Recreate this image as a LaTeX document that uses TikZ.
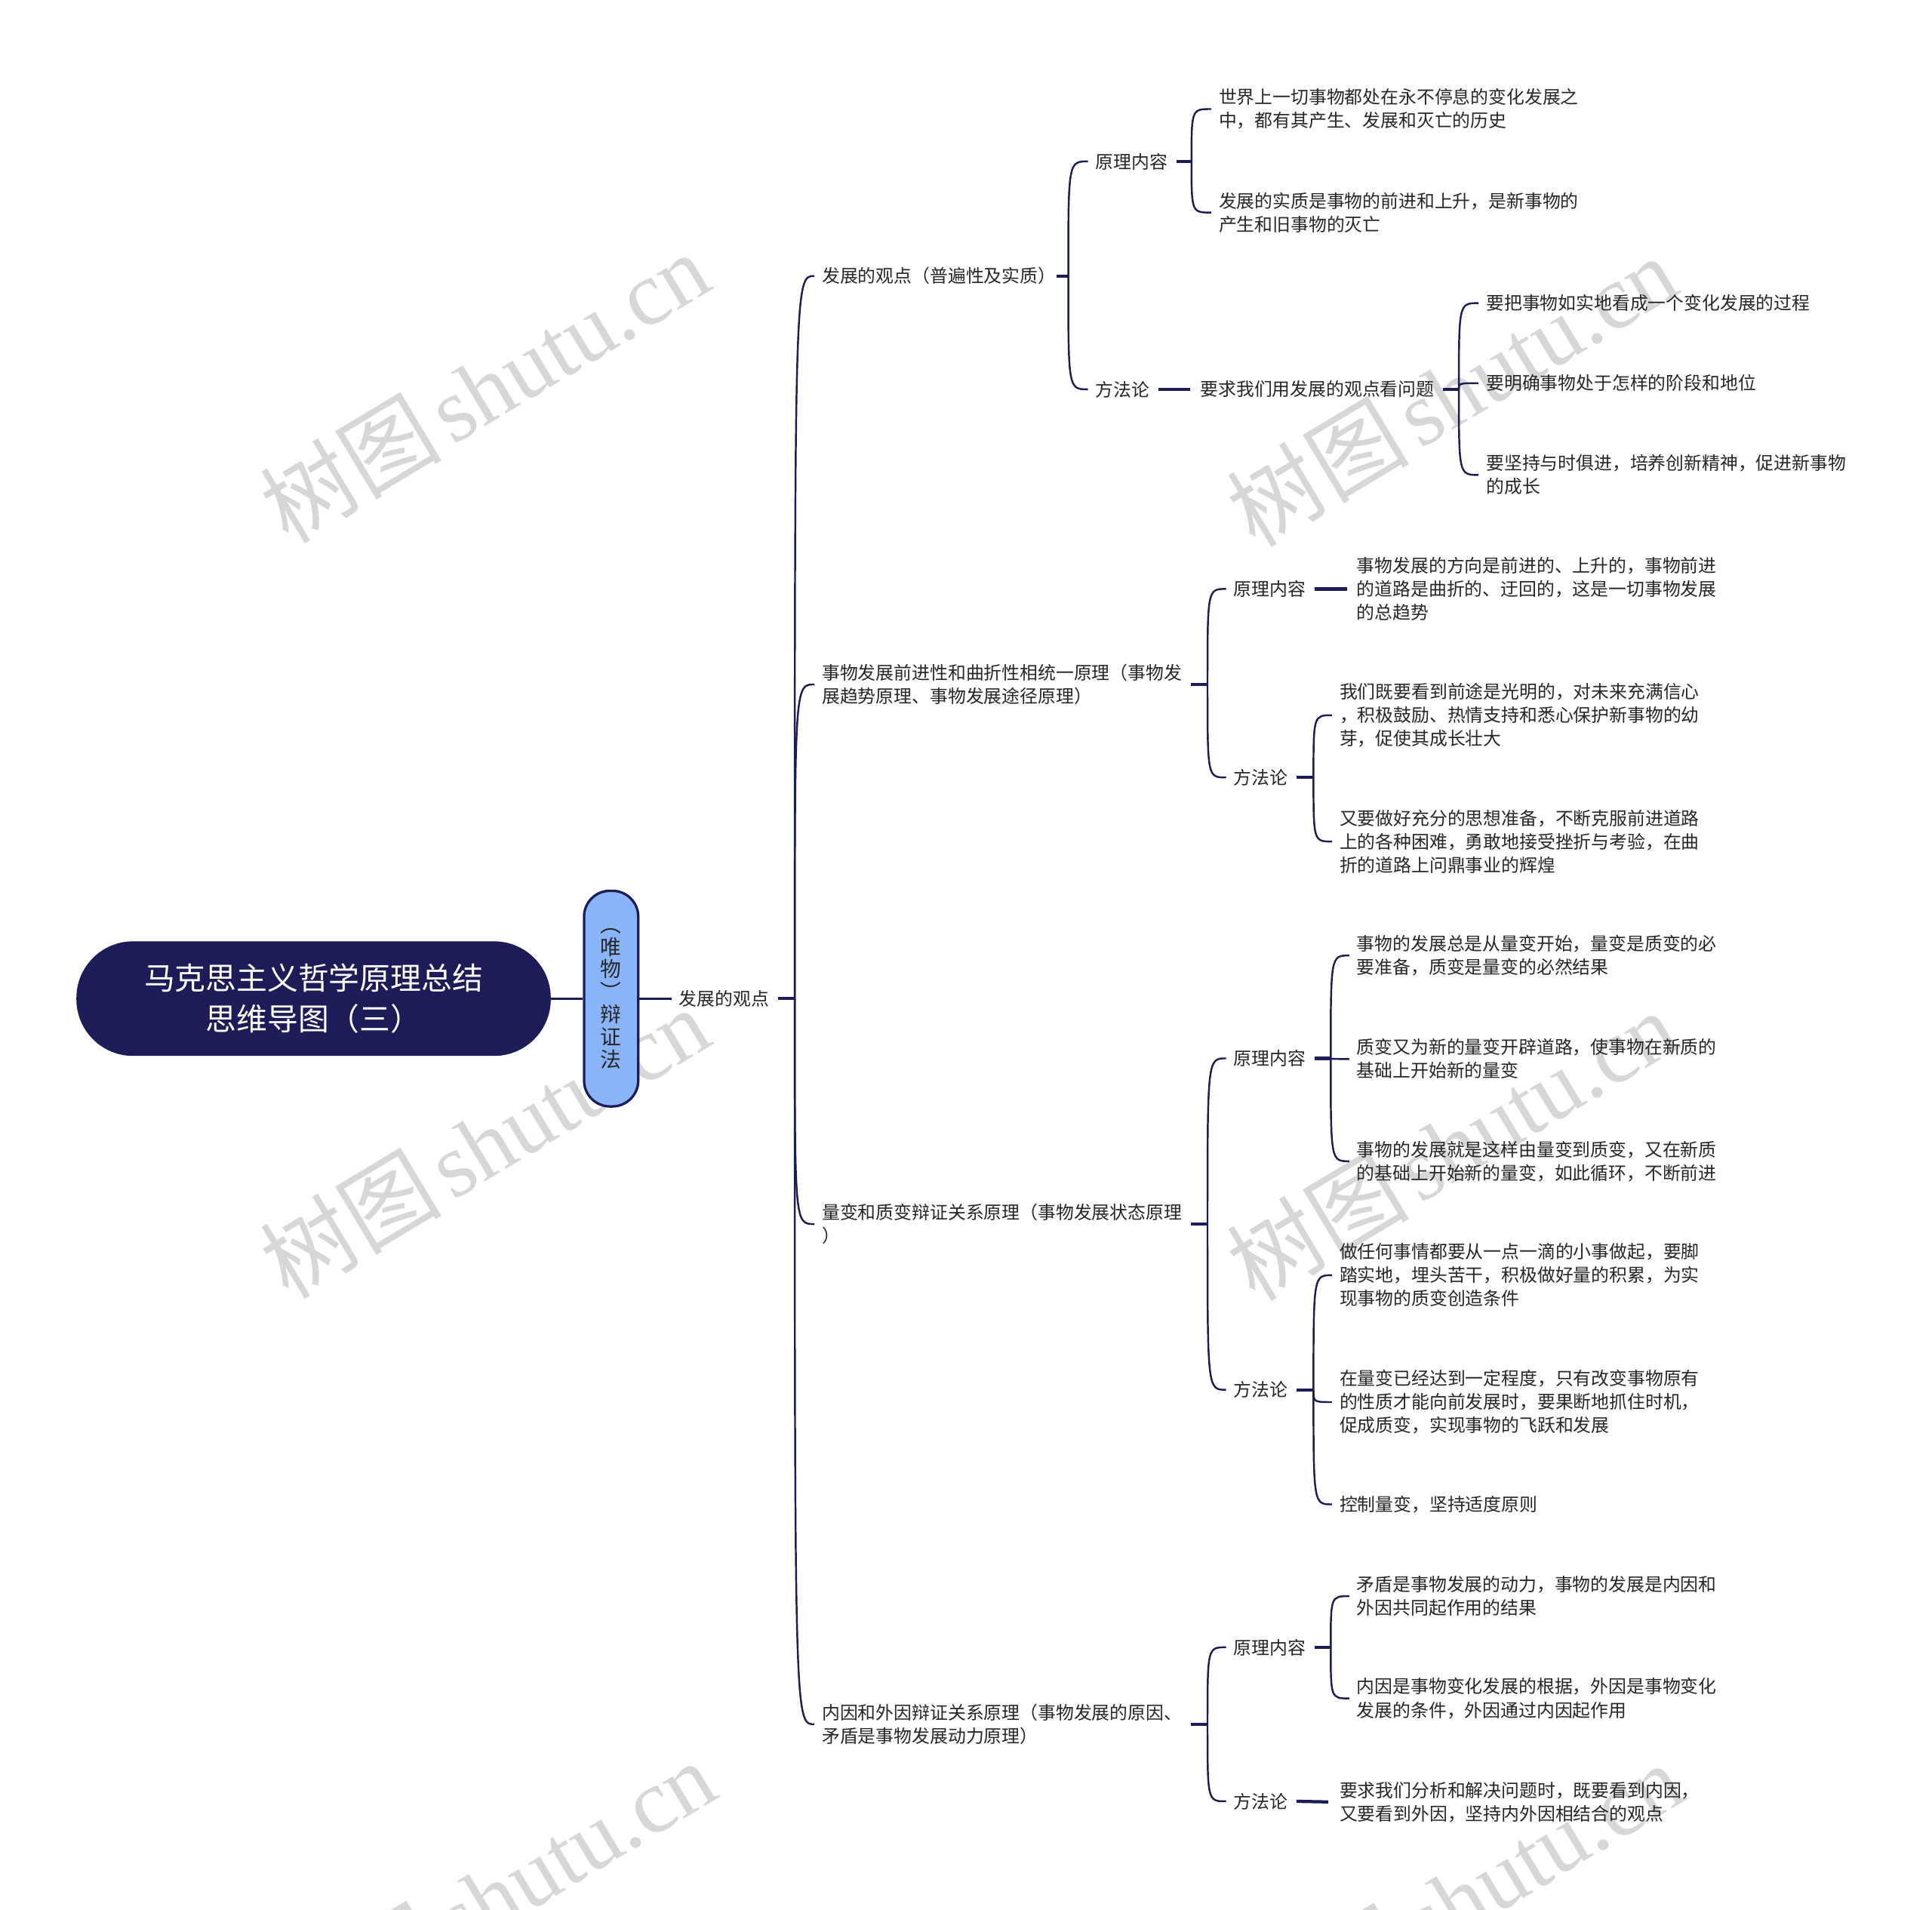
\documentclass[tikz,border=0pt]{standalone}
\usepackage{fontspec}
\setmainfont{Noto Sans CJK SC}
\newfontfamily\wmcjk{Noto Sans CJK SC}
\newfontfamily\wmlat{Liberation Serif}
\usetikzlibrary{calc}
\definecolor{navy}{HTML}{1C1D58}
\definecolor{lblue}{HTML}{8AB4F8}
\definecolor{txt}{HTML}{262626}
\definecolor{wm}{HTML}{D7D7D7}
\begin{document}
\begin{tikzpicture}[x=1pt,y=-1pt,
  conn/.style={draw=navy,line width=1.5pt},
  stubline/.style={draw=navy,line width=2.6pt},
  lf/.style={anchor=west,inner sep=0pt,align=left,text=txt,font=\fontsize{14.6}{19}\selectfont},
  brk/.style={to path={.. controls (\tikztostart |- \tikztotarget) and (\tikztostart |- \tikztotarget) .. (\tikztotarget)}},
  wmark/.style={text=wm,rotate=31,inner sep=0pt,font=\fontsize{74}{74}\selectfont}
]
\useasboundingbox (0,0) rectangle (1568,1550.2);

% watermarks
\foreach \wx/\wy [count=\i] in {393/314,1178/317,393/927,1178/929,398/1538,1183/1540}{
  \node[wmark] (wm\i) at (\wx,\wy) {\wmcjk 树图\hspace{8pt}\wmlat shutu.cn};
}

% root
\node[fill=navy,rounded corners=46pt,minimum width=385pt,minimum height=93pt,inner sep=0pt,
      text=white,align=center,font=\fontsize{25}{33}\selectfont] (root) at (254.5,810.5)
      {马克思主义哲学原理总结\\思维导图（三）};
% vertical node
\node[fill=lblue,draw=navy,line width=2pt,rounded corners=21pt,minimum width=44pt,minimum height=175pt,
      inner sep=0pt,align=center,text=txt,font=\fontsize{17}{18.3}\selectfont] (dia) at (496,810.5)
      {︵\\唯\\物\\︶\\辩\\证\\法};
\draw[navy,line width=2pt] (root.east) -- (dia.west);

\node[lf] (L2) at (551,810.5) {发展的观点};
\draw[conn] (dia.east) -- ([xshift=-6]L2.west);
\coordinate (j0) at (645,810.5);
\draw[stubline] ([xshift=7]L2.east) -- (j0);

% level 3
\node[lf] (A) at (667,224) {发展的观点（普遍性及实质）};
\node[lf] (B) at (667,555.5) {事物发展前进性和曲折性相统一原理（事物发\\展趋势原理、事物发展途径原理）};
\node[lf] (C) at (667,993.5) {量变和质变辩证关系原理（事物发展状态原理\\）};
\node[lf] (D) at (667,1399.5) {内因和外因辩证关系原理（事物发展的原因、\\矛盾是事物发展动力原理）};
\foreach \n in {A,B,C,D}{\draw[conn] (j0) to[brk] ([xshift=-6]\n.west);}

% ---- A
\coordinate (jA) at (867,224);
\draw[stubline] (A.east) -- (jA);
\node[lf] (A1) at (889,131) {原理内容};
\node[lf] (A2) at (889,316) {方法论};
\foreach \n in {A1,A2}{\draw[conn] (jA) to[brk] ([xshift=-6]\n.west);}
\coordinate (jA1) at (967,131);
\draw[stubline] ([xshift=7]A1.east) -- (jA1);
\node[lf] (A1a) at (989,88.5) {世界上一切事物都处在永不停息的变化发展之\\中，都有其产生、发展和灭亡的历史};
\node[lf] (A1b) at (989,172.5) {发展的实质是事物的前进和上升，是新事物的\\产生和旧事物的灭亡};
\foreach \n in {A1a,A1b}{\draw[conn] (jA1) to[brk] ([xshift=-6]\n.west);}
\node[lf] (A2a) at (974,316) {要求我们用发展的观点看问题};
\draw[stubline] ([xshift=7]A2.east) -- ([xshift=-8]A2a.west);
\coordinate (jA2a) at (1184,316);
\draw[stubline] ([xshift=7]A2a.east) -- (jA2a);
\node[lf] (A2a1) at (1206,246) {要把事物如实地看成一个变化发展的过程};
\node[lf] (A2a2) at (1206,311) {要明确事物处于怎样的阶段和地位};
\node[lf] (A2a3) at (1206,385.5) {要坚持与时俱进，培养创新精神，促进新事物\\的成长};
\foreach \n in {A2a1,A2a2,A2a3}{\draw[conn] (jA2a) to[brk] ([xshift=-6]\n.west);}

% ---- B
\coordinate (jB) at (980,555.5);
\draw[stubline] ([xshift=7]B.east|-jB) -- (jB);
\node[lf] (B1) at (1001,478) {原理内容};
\node[lf] (B2) at (1001,631) {方法论};
\foreach \n in {B1,B2}{\draw[conn] (jB) to[brk] ([xshift=-6]\n.west);}
\node[lf] (B1a) at (1101,478) {事物发展的方向是前进的、上升的，事物前进\\的道路是曲折的、迂回的，这是一切事物发展\\的总趋势};
\draw[stubline] ([xshift=7]B1.east) -- ([xshift=-8]B1a.west);
\coordinate (jB2) at (1066,631);
\draw[stubline] ([xshift=7]B2.east) -- (jB2);
\node[lf] (B2a) at (1087,580.5) {我们既要看到前途是光明的，对未来充满信心\\，积极鼓励、热情支持和悉心保护新事物的幼\\芽，促使其成长壮大};
\node[lf] (B2b) at (1087,683) {又要做好充分的思想准备，不断克服前进道路\\上的各种困难，勇敢地接受挫折与考验，在曲\\折的道路上问鼎事业的辉煌};
\foreach \n in {B2a,B2b}{\draw[conn] (jB2) to[brk] ([xshift=-6]\n.west);}

% ---- C
\coordinate (jC) at (980,993.5);
\draw[stubline] ([xshift=7]C.east|-jC) -- (jC);
\node[lf] (C1) at (1001,859) {原理内容};
\node[lf] (C2) at (1001,1128) {方法论};
\foreach \n in {C1,C2}{\draw[conn] (jC) to[brk] ([xshift=-6]\n.west);}
\coordinate (jC1) at (1080,859);
\draw[stubline] ([xshift=7]C1.east) -- (jC1);
\node[lf] (C1a) at (1101,775.5) {事物的发展总是从量变开始，量变是质变的必\\要准备，质变是量变的必然结果};
\node[lf] (C1b) at (1101,859.5) {质变又为新的量变开辟道路，使事物在新质的\\基础上开始新的量变};
\node[lf] (C1c) at (1101,942.5) {事物的发展就是这样由量变到质变，又在新质\\的基础上开始新的量变，如此循环，不断前进};
\foreach \n in {C1a,C1b,C1c}{\draw[conn] (jC1) to[brk] ([xshift=-6]\n.west);}
\coordinate (jC2) at (1066,1128);
\draw[stubline] ([xshift=7]C2.east) -- (jC2);
\node[lf] (C2a) at (1087,1035) {做任何事情都要从一点一滴的小事做起，要脚\\踏实地，埋头苦干，积极做好量的积累，为实\\现事物的质变创造条件};
\node[lf] (C2b) at (1087,1138) {在量变已经达到一定程度，只有改变事物原有\\的性质才能向前发展时，要果断地抓住时机，\\促成质变，实现事物的飞跃和发展};
\node[lf] (C2c) at (1087,1221) {控制量变，坚持适度原则};
\foreach \n in {C2a,C2b,C2c}{\draw[conn] (jC2) to[brk] ([xshift=-6]\n.west);}

% ---- D
\coordinate (jD) at (980,1399.5);
\draw[stubline] ([xshift=7]D.east|-jD) -- (jD);
\node[lf] (D1) at (1001,1337) {原理内容};
\node[lf] (D2) at (1001,1462) {方法论};
\foreach \n in {D1,D2}{\draw[conn] (jD) to[brk] ([xshift=-6]\n.west);}
\coordinate (jD1) at (1080,1337);
\draw[stubline] ([xshift=7]D1.east) -- (jD1);
\node[lf] (D1a) at (1101,1295.5) {矛盾是事物发展的动力，事物的发展是内因和\\外因共同起作用的结果};
\node[lf] (D1b) at (1101,1378.5) {内因是事物变化发展的根据，外因是事物变化\\发展的条件，外因通过内因起作用};
\foreach \n in {D1a,D1b}{\draw[conn] (jD1) to[brk] ([xshift=-6]\n.west);}
\node[lf] (D2a) at (1087,1462.5) {要求我们分析和解决问题时，既要看到内因，\\又要看到外因，坚持内外因相结合的观点};
\draw[stubline] ([xshift=7]D2.east) -- ([xshift=-9]D2a.west);
\end{tikzpicture}
\end{document}
